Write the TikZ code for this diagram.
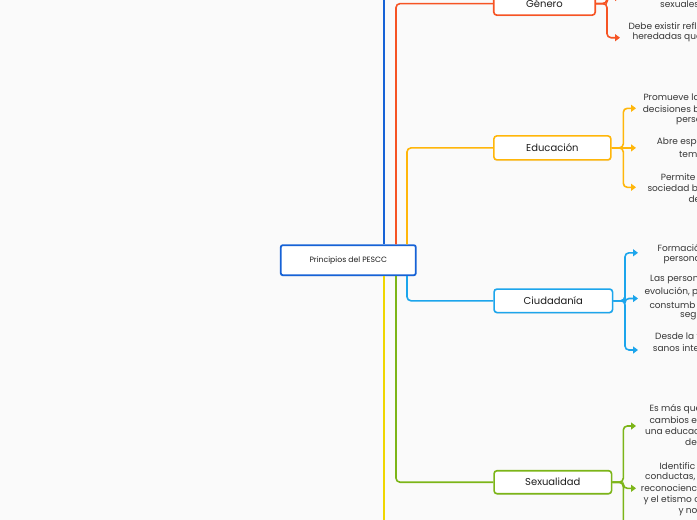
\documentclass[tikz,border=0pt]{standalone}
\usepackage{fontspec}
\setmainfont{Poppins}
\usetikzlibrary{arrows.meta,shadows,calc}
\definecolor{bgc}{RGB}{250,250,250}
\definecolor{blueC}{RGB}{22,98,214}
\definecolor{redC}{RGB}{246,84,36}
\definecolor{orgC}{RGB}{255,182,10}
\definecolor{cyaC}{RGB}{28,165,236}
\definecolor{grnC}{RGB}{124,181,24}
\definecolor{yelC}{RGB}{240,214,0}
\definecolor{labC}{RGB}{30,30,30}
\definecolor{leafC}{RGB}{55,55,55}
\tikzset{
  conn/.style={line width=1.6pt, rounded corners=4pt},
  arr/.style={-{Triangle[length=5pt,width=7pt]}},
  topic/.style={draw, line width=1.6pt, rounded corners=3pt, fill=white,
    text=labC, font=\fontsize{10}{12}\selectfont, inner sep=0pt,
    drop shadow={opacity=0.12, shadow xshift=0pt, shadow yshift=-1.2pt}},
  centre/.style={draw=blueC, line width=1.8pt, rounded corners=2pt, fill=white,
    text=labC, font=\fontsize{7.7}{9}\selectfont, inner sep=0pt,
    minimum width=135pt, minimum height=30pt,
    drop shadow={opacity=0.12, shadow xshift=0pt, shadow yshift=-1.2pt}},
  leaf/.style={anchor=west, inner sep=0pt, text=leafC,
    font=\fontsize{9}{11}\selectfont}
}
\begin{document}
\begin{tikzpicture}[x=1pt,y=-1pt]
\useasboundingbox (0,0) rectangle (697,520);
\clip (0,0) rectangle (697,520);
\fill[bgc] (0,0) rectangle (697,520);

% central and topic nodes
\node[centre] (c) at (348.3,260.2) {Principios del PESCC};
\node[topic, draw=redC, minimum width=101.5pt, minimum height=23pt] (gen) at (544.5,3.6) {Género};
\node[topic, draw=orgC, minimum width=117pt, minimum height=24pt] (edu) at (552.4,147.9) {Educación};
\node[topic, draw=cyaC, minimum width=118.5pt, minimum height=23.5pt] (ciu) at (553.3,300.8) {Ciudadanía};
\node[topic, draw=grnC, minimum width=117.5pt, minimum height=23pt] (sex) at (552.8,482.2) {Sexualidad};

% trunk ends
\coordinate (ctop) at (384,-5);
\coordinate (cbot) at (384,525);

\draw[conn,blueC] ($(c.north)+(35.7,0)$) -- (ctop);
\draw[conn,yelC] ($(c.south)+(35.7,0)$) -- (cbot);
\draw[conn,redC] ($(c.north)+(47.7,0)$) |- (gen.west);
\draw[conn,orgC] ($(c.north)+(58.7,0)$) |- (edu.west);
\draw[conn,cyaC] ($(c.south)+(58.7,0)$) |- (ciu.west);
\draw[conn,grnC] ($(c.south)+(47.7,0)$) |- (sex.west);

% Genero branch
\coordinate (gj1) at (607,-45);   \coordinate (g1) at (620,-45);
\coordinate (gj2) at (607,-2.5);  \coordinate (g2) at (620,-2.5);
\coordinate (gj3) at (607,37.7);  \coordinate (g3) at (620,37.7);
\draw[conn,redC,arr] (gen.east) -| (gj1) -- (g1);
\draw[conn,redC,arr] (gen.east) -| (gj2) -- (g2);
\draw[conn,redC,arr] (gen.east) -| (gj3) -- (g3);

% Educacion branch
\coordinate (ej1) at (623.3,108.3); \coordinate (e1) at (636,108.3);
\coordinate (e2) at (636,147.9);
\coordinate (ej3) at (623.3,187.3); \coordinate (e3) at (636,187.3);
\draw[conn,orgC,arr] (edu.east) -| (ej1) -- (e1);
\draw[conn,orgC,arr] (edu.east) -- (e2);
\draw[conn,orgC,arr] (edu.east) -| (ej3) -- (e3);

% Ciudadania branch
\coordinate (cj1) at (625,252.8); \coordinate (c1) at (638,252.8);
\coordinate (cj2) at (625,298.5); \coordinate (cc2) at (638,298.5);
\coordinate (cj3) at (625,350);   \coordinate (c3) at (638,350);
\draw[conn,cyaC,arr] (ciu.east) -| (cj1) -- (c1);
\draw[conn,cyaC,arr] (ciu.east) -| (cj2) -- (cc2);
\draw[conn,cyaC,arr] (ciu.east) -| (cj3) -- (c3);

% Sexualidad branch
\coordinate (sj1) at (623.3,426);   \coordinate (s1) at (636,426);
\coordinate (sj2) at (623.3,488.3); \coordinate (s2) at (636,488.3);
\coordinate (sj3) at (623.3,560);   \coordinate (s3) at (636,560);
\draw[conn,grnC,arr] (sex.east) -| (sj1) -- (s1);
\draw[conn,grnC,arr] (sex.east) -| (sj2) -- (s2);
\draw[conn,grnC,arr] (sex.east) -| (sj3) -- (s3);

% leaf texts (cut at the right edge, as in the reference)
\node[leaf] (ga) at (660,4.3) {sexuales};
\node[leaf] (gb) at (628.3,26) {Debe existir refl};
\node[leaf] (gc) at (632.3,37.3) {heredadas que};

\node[leaf] (ea) at (643.3,97.3) {Promueve la};
\node[leaf] (eb) at (642.7,109) {decisiones b};
\node[leaf] (ec) at (676,120.7) {perso};
\node[leaf] (ed) at (656.7,142.3) {Abre espa};
\node[leaf] (ee) at (679,154) {tema};
\node[leaf] (ef) at (660.7,176.7) {Permite};
\node[leaf] (eg) at (647.3,187.7) {sociedad ba};
\node[leaf] (eh) at (688.3,199.3) {de};

\node[leaf] (ca) at (657.3,247.7) {Formació};
\node[leaf] (cb) at (663.3,260) {persona};
\node[leaf] (cc) at (650,280) {Las person};
\node[leaf] (cd) at (644.3,292.3) {evolución, p};
\node[leaf] (ce) at (649.3,305) {constumb};
\node[leaf] (cf) at (680,316.7) {seg};
\node[leaf] (cg) at (655,336.7) {Desde la t};
\node[leaf] (ch) at (652.7,348.3) {sanos inte};

\node[leaf] (sa) at (649.3,409) {Es más que};
\node[leaf] (sb) at (649.3,420) {cambios ev};
\node[leaf] (sc) at (645,431) {una educaci};
\node[leaf] (sd) at (685,442.3) {de};
\node[leaf] (se) at (659.3,465.7) {Identific};
\node[leaf] (sf) at (645,476.7) {conductas, c};
\node[leaf] (sg) at (640.7,488.3) {reconocienc};
\node[leaf] (sh) at (643.3,500) {y el etismo c};
\node[leaf] (si) at (678.3,511.7) {y no};
\end{tikzpicture}
\end{document}
